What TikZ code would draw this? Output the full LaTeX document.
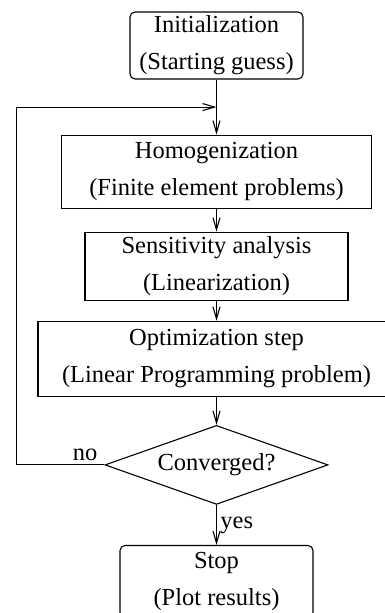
\documentclass[tikz,border=0pt]{standalone}
\usepackage{fontspec}
\setmainfont{Liberation Serif}
\usetikzlibrary{positioning,shapes.geometric,arrows.meta,calc}

\begin{document}
\begin{tikzpicture}[->,>={Straight Barb[length=12pt,width=7pt]},line width=1.1pt,auto,
  font=\fontsize{24.5}{37}\selectfont,
  block/.style={draw,rectangle,align=center,inner sep=0pt},
  term/.style={block,rounded corners=5pt},
  decision/.style={draw,diamond,aspect=2.8,inner sep=0pt,minimum width=223pt,minimum height=79pt}]
\useasboundingbox (0,0) rectangle (385pt,-613pt);
\node[term,minimum width=173pt,minimum height=67pt] (init) at (216.5pt,-45.5pt) {Initialization\\(Starting guess)};
\node[block,minimum width=310pt,minimum height=73pt] (homog) [below=55pt of init] {Homogenization\\(Finite element problems)};
\node[block,minimum width=263pt,minimum height=68pt] (sens) [below=23pt of homog] {Sensitivity analysis\\(Linearization)};
\node[block,minimum width=357pt,minimum height=75pt] (opt) [below=20pt of sens] {Optimization step\\(Linear Programming problem)};
\node[decision] (conv) [below=28pt of opt] {Converged?};
\node[term,minimum width=193pt,minimum height=72pt] (stop) [below=40pt of conv] {Stop\\(Plot results)};
\coordinate (merge) at ($(init.south)!0.5!(homog.north)$);

\path (init) edge (homog)
(homog) edge (sens)
(sens) edge (opt)
(opt) edge (conv)
(conv) edge node {yes} (stop);
\draw (conv.west) -- node[above,pos=0.22] {no} ++(-88pt,0) |- (merge);
\end{tikzpicture}
\end{document}
